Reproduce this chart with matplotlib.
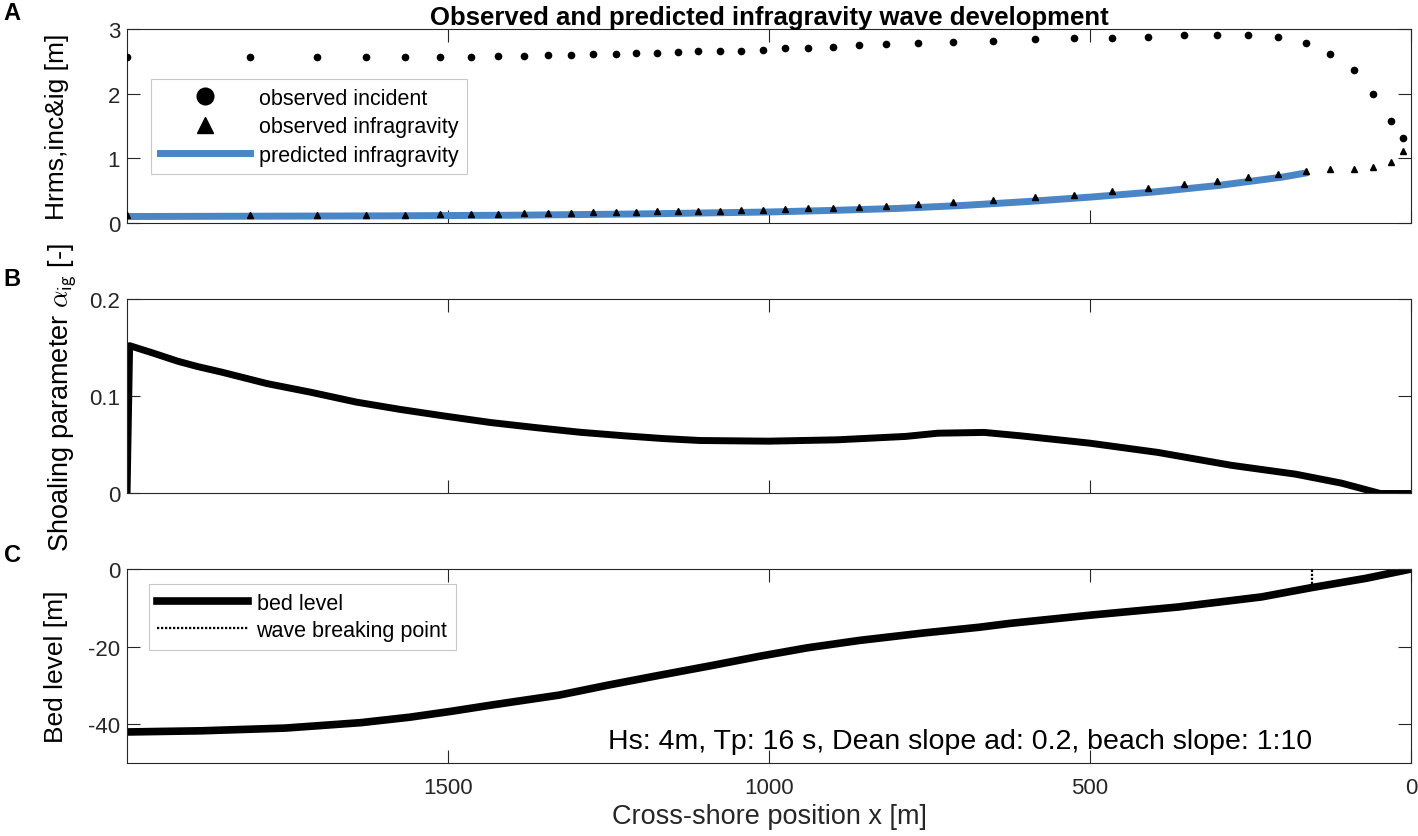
import matplotlib
matplotlib.use("Agg")
import matplotlib.pyplot as plt
from matplotlib.lines import Line2D

plt.rcParams['font.family'] = ['Liberation Sans', 'DejaVu Sans']
plt.rcParams['mathtext.fontset'] = 'cm'
plt.rcParams['axes.unicode_minus'] = False

# panel A: observed wave heights (same gauge positions for both series)
x_obs = [2000, 1809, 1704, 1628, 1567, 1513, 1465, 1422, 1382, 1345, 1309, 1274,
         1239, 1207, 1174, 1142, 1110, 1077, 1043, 1009, 975, 939, 900, 860, 818,
         768, 714, 651, 586, 525, 466, 409, 354, 303, 254, 207, 164, 126, 89, 59,
         32, 12]
h_inc = [2.56, 2.56, 2.56, 2.56, 2.56, 2.56, 2.57, 2.575, 2.58, 2.59, 2.60, 2.61,
         2.615, 2.625, 2.635, 2.645, 2.655, 2.655, 2.665, 2.68, 2.70, 2.71, 2.726,
         2.747, 2.768, 2.783, 2.804, 2.82, 2.84, 2.856, 2.866, 2.88, 2.90, 2.912,
         2.907, 2.88, 2.79, 2.62, 2.36, 2.0, 1.57, 1.31]
h_ig = [0.124, 0.124, 0.13, 0.13, 0.13, 0.134, 0.14, 0.145, 0.15, 0.155, 0.16, 0.165,
        0.17, 0.175, 0.18, 0.186, 0.186, 0.186, 0.196, 0.206, 0.217, 0.227, 0.237,
        0.253, 0.268, 0.299, 0.33, 0.356, 0.397, 0.438, 0.49, 0.541, 0.598, 0.655,
        0.706, 0.758, 0.809, 0.83, 0.835, 0.866, 0.943, 1.118]

# predicted infragravity height
x_pred = [2000, 1800, 1600, 1400, 1200, 1000, 900, 800, 700, 600, 500, 400, 300, 200, 160]
h_pred = [0.10, 0.105, 0.11, 0.12, 0.14, 0.17, 0.195, 0.225, 0.27, 0.33, 0.40, 0.48,
          0.58, 0.71, 0.78]

# panel B: shoaling parameter
x_alpha = [2000, 1996, 1960, 1921, 1890, 1852, 1782, 1713, 1643, 1575, 1504, 1434,
           1364, 1295, 1225, 1165, 1108, 1001, 894, 787, 737, 665, 608, 501, 394,
           280, 180, 108, 48, 0]
alpha = [0.0, 0.152, 0.1445, 0.136, 0.1305, 0.1247, 0.113, 0.104, 0.094, 0.0865,
         0.0795, 0.073, 0.0678, 0.063, 0.0593, 0.0565, 0.0545, 0.0538, 0.0552,
         0.0587, 0.062, 0.0628, 0.0593, 0.0518, 0.0422, 0.029, 0.0199, 0.0106,
         0.0, 0.0]

# panel C: bed profile
x_bed = [2000, 1885, 1754, 1636, 1560, 1496, 1430, 1327, 1250, 1171, 1090, 1015,
         940, 859, 760, 672, 624, 500, 363, 233, 155, 70, 0]
z_bed = [-42.0, -41.7, -41.0, -39.6, -38.2, -36.7, -35.0, -32.5, -29.9, -27.4,
         -24.9, -22.5, -20.3, -18.4, -16.5, -15.0, -14.0, -11.9, -9.8, -7.2, -4.8,
         -2.4, 0.0]
x_break = 155

blue = '#4a86c6'
axcol = '#262626'

fig = plt.figure(figsize=(14.18, 8.37), dpi=100)
axA = fig.add_axes([0.0896, 0.7324, 0.9055, 0.2318])
axB = fig.add_axes([0.0896, 0.4092, 0.9055, 0.2324])
axC = fig.add_axes([0.0896, 0.0872, 0.9055, 0.2318])

for ax in (axA, axB, axC):
    ax.set_xlim(2000, 0)
    ax.set_xticks([1500, 1000, 500, 0])
    ax.tick_params(direction='in', length=9.5, width=0.8, top=True, right=True,
                   labelsize=16, colors=axcol)
    ax.tick_params(axis='x', pad=10)
    ax.tick_params(axis='y', pad=5)
    for s in ax.spines.values():
        s.set_color(axcol)
        s.set_linewidth(0.8)

# A
axA.plot(x_pred, h_pred, color=blue, lw=5, solid_capstyle='butt', zorder=2)
axA.plot(x_obs, h_inc, 'o', color='k', ms=4.5, ls='none', zorder=3)
axA.plot(x_obs, h_ig, '^', color='k', ms=5, ls='none', zorder=3)
axA.set_ylim(0, 3)
axA.set_yticks([0, 1, 2, 3])
axA.tick_params(labelbottom=False)
axA.set_ylabel('Hrms,inc&ig [m]', fontsize=19)
axA.yaxis.set_label_coords(-0.045, 0.5)
axA.set_title('Observed and predicted infragravity wave development',
              fontsize=18.5, fontweight='bold', pad=3)
hA = [Line2D([], [], marker='o', color='k', ls='none', ms=12),
      Line2D([], [], marker='^', color='k', ls='none', ms=12),
      Line2D([], [], color=blue, lw=5)]
legA = axA.legend(hA, ['observed incident', 'observed infragravity', 'predicted infragravity'],
                  loc='upper left', bbox_to_anchor=(0.0187, 0.742), fontsize=15.5,
                  fancybox=False, edgecolor='#c8c8c8', framealpha=1, handlelength=4.2,
                  handletextpad=0.4, labelspacing=0.35, borderaxespad=0, borderpad=0.4)
legA.get_frame().set_linewidth(0.8)

# B
axB.plot(x_alpha, alpha, color='k', lw=5)
axB.set_ylim(0, 0.2)
axB.set_yticks([0, 0.1, 0.2])
axB.set_yticklabels(['0', '0.1', '0.2'])
axB.tick_params(labelbottom=False)
axB.set_ylabel(r'Shoaling parameter $\alpha_{\mathsf{ig}}$ [-]', fontsize=19.5)
axB.yaxis.set_label_coords(-0.037, 0.5)

# C
axC.plot(x_bed, z_bed, color='k', lw=5.5, label='bed level')
axC.plot([x_break, x_break], [z_bed[x_bed.index(x_break)], 0], color='k', lw=1.6,
         ls=(0, (1, 0.8)), label='wave breaking point')
axC.set_ylim(-50, 0)
axC.set_yticks([-40, -20, 0])
axC.set_ylabel('Bed level [m]', fontsize=19)
axC.yaxis.set_label_coords(-0.046, 0.5)
axC.set_xlabel('Cross-shore position x [m]', fontsize=19.5, color=axcol, labelpad=4)
legC = axC.legend(loc='upper left', bbox_to_anchor=(0.017, 0.923), fontsize=15.5,
                  fancybox=False, edgecolor='#c8c8c8', framealpha=1, handlelength=4.2,
                  handletextpad=0.4, labelspacing=0.3, borderaxespad=0, borderpad=0.4)
legC.get_frame().set_linewidth(0.8)
axC.text(0.649, 0.115, 'Hs: 4m, Tp: 16 s, Dean slope ad: 0.2, beach slope: 1:10',
         transform=axC.transAxes, ha='center', va='center', fontsize=20.5)

for lab, yy in (('A', 13), ('B', 280), ('C', 555)):
    fig.text(12 / 1418, 1 - yy / 837, lab, fontsize=17, fontweight='bold',
             ha='center', va='center')

fig.savefig('out.png', dpi=100)
